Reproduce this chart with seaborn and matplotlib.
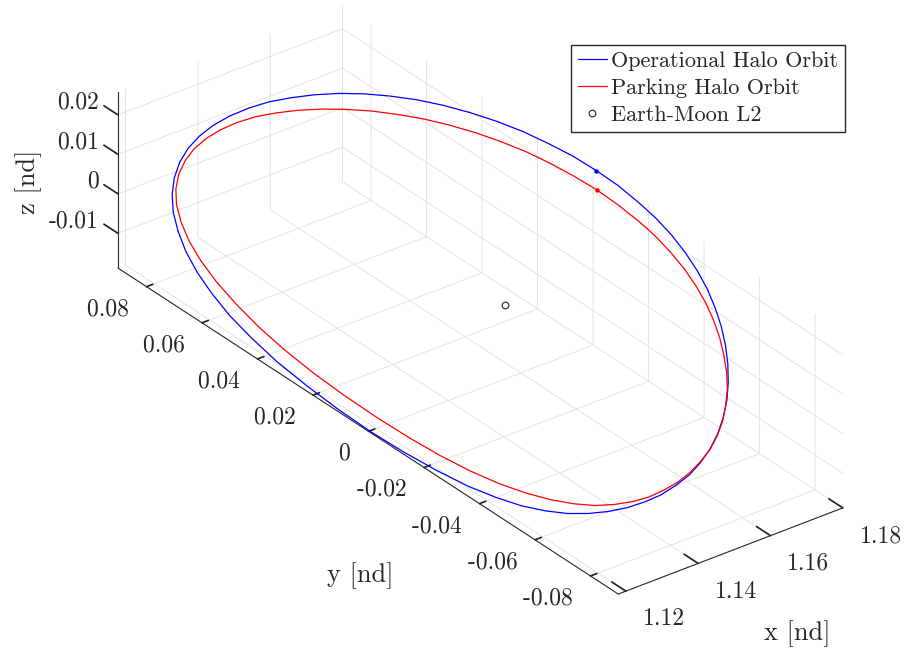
import numpy as np
import matplotlib
matplotlib.use("Agg")
import matplotlib.pyplot as plt
import seaborn as sns

# Operational halo orbit about Earth-Moon L2 (nondimensional rotating frame)
op_x = [1.1809, 1.1807, 1.1800, 1.1790, 1.1776, 1.1758, 1.1737, 1.1714, 1.1688, 1.1661, 1.1632,
        1.1601, 1.1569, 1.1537, 1.1504, 1.1470, 1.1437, 1.1404, 1.1373, 1.1343, 1.1315, 1.1289,
        1.1266, 1.1247, 1.1230, 1.1217, 1.1207, 1.1199, 1.1194, 1.1190, 1.1188, 1.1186, 1.1186,
        1.1186, 1.1188, 1.1190, 1.1194, 1.1199, 1.1207, 1.1217, 1.1230, 1.1247, 1.1266, 1.1289,
        1.1315, 1.1343, 1.1373, 1.1404, 1.1437, 1.1470, 1.1504, 1.1537, 1.1569, 1.1601, 1.1632,
        1.1661, 1.1688, 1.1714, 1.1737, 1.1758, 1.1776, 1.1790, 1.1800, 1.1807]
op_y = [0.0000, 0.0081, 0.0161, 0.0239, 0.0315, 0.0388, 0.0458, 0.0524, 0.0586, 0.0643, 0.0696,
        0.0745, 0.0788, 0.0825, 0.0855, 0.0879, 0.0895, 0.0903, 0.0903, 0.0894, 0.0877, 0.0851,
        0.0817, 0.0775, 0.0725, 0.0667, 0.0601, 0.0526, 0.0441, 0.0345, 0.0235, 0.0118, 0.0000,
        -0.0118, -0.0235, -0.0345, -0.0441, -0.0526, -0.0601, -0.0667, -0.0725, -0.0775, -0.0817,
        -0.0851, -0.0877, -0.0894, -0.0903, -0.0903, -0.0895, -0.0879, -0.0855, -0.0825, -0.0788,
        -0.0745, -0.0696, -0.0643, -0.0586, -0.0524, -0.0458, -0.0388, -0.0315, -0.0239, -0.0161,
        -0.0081]
op_z = [0.0251, 0.0251, 0.0249, 0.0247, 0.0243, 0.0238, 0.0232, 0.0224, 0.0214, 0.0203, 0.0190,
        0.0175, 0.0159, 0.0143, 0.0125, 0.0106, 0.0087, 0.0067, 0.0047, 0.0027, 0.0005, -0.0016,
        -0.0038, -0.0060, -0.0082, -0.0104, -0.0124, -0.0143, -0.0159, -0.0173, -0.0183, -0.0189,
        -0.0192, -0.0189, -0.0183, -0.0173, -0.0159, -0.0143, -0.0124, -0.0104, -0.0082, -0.0060,
        -0.0038, -0.0016, 0.0005, 0.0027, 0.0047, 0.0067, 0.0087, 0.0106, 0.0125, 0.0143, 0.0159,
        0.0175, 0.0190, 0.0203, 0.0214, 0.0224, 0.0232, 0.0238, 0.0243, 0.0247, 0.0249, 0.0251]

# Parking halo orbit
pk_x = [1.1810, 1.1808, 1.1802, 1.1793, 1.1779, 1.1763, 1.1743, 1.1721, 1.1696, 1.1669, 1.1640,
        1.1610, 1.1578, 1.1545, 1.1512, 1.1479, 1.1446, 1.1413, 1.1382, 1.1353, 1.1325, 1.1300,
        1.1278, 1.1260, 1.1244, 1.1231, 1.1221, 1.1214, 1.1208, 1.1204, 1.1202, 1.1201, 1.1201,
        1.1201, 1.1202, 1.1204, 1.1208, 1.1214, 1.1221, 1.1231, 1.1244, 1.1260, 1.1278, 1.1300,
        1.1325, 1.1353, 1.1382, 1.1413, 1.1446, 1.1479, 1.1512, 1.1545, 1.1578, 1.1610, 1.1640,
        1.1669, 1.1696, 1.1721, 1.1743, 1.1763, 1.1779, 1.1793, 1.1802, 1.1808]
pk_y = [0.0000, 0.0079, 0.0157, 0.0233, 0.0307, 0.0377, 0.0445, 0.0509, 0.0570, 0.0627, 0.0680,
        0.0729, 0.0773, 0.0810, 0.0842, 0.0866, 0.0883, 0.0892, 0.0894, 0.0888, 0.0874, 0.0852,
        0.0821, 0.0781, 0.0731, 0.0672, 0.0603, 0.0524, 0.0435, 0.0336, 0.0228, 0.0115, 0.0000,
        -0.0115, -0.0228, -0.0336, -0.0435, -0.0524, -0.0603, -0.0672, -0.0731, -0.0781, -0.0821,
        -0.0852, -0.0874, -0.0888, -0.0894, -0.0892, -0.0883, -0.0866, -0.0842, -0.0810, -0.0773,
        -0.0729, -0.0680, -0.0627, -0.0570, -0.0509, -0.0445, -0.0377, -0.0307, -0.0233, -0.0157,
        -0.0079]
pk_z = [0.0202, 0.0201, 0.0200, 0.0198, 0.0195, 0.0191, 0.0186, 0.0180, 0.0172, 0.0164, 0.0154,
        0.0143, 0.0131, 0.0119, 0.0106, 0.0092, 0.0077, 0.0062, 0.0046, 0.0029, 0.0012, -0.0007,
        -0.0025, -0.0044, -0.0064, -0.0082, -0.0100, -0.0117, -0.0132, -0.0144, -0.0153, -0.0158,
        -0.0160, -0.0158, -0.0153, -0.0144, -0.0132, -0.0117, -0.0100, -0.0082, -0.0064, -0.0044,
        -0.0025, -0.0007, 0.0012, 0.0029, 0.0046, 0.0062, 0.0077, 0.0092, 0.0106, 0.0119, 0.0131,
        0.0143, 0.0154, 0.0164, 0.0172, 0.0180, 0.0186, 0.0191, 0.0195, 0.0198, 0.0200, 0.0201]

# Earth-Moon L2 libration point
l2_x = [1.1557]
l2_y = [0.0]
l2_z = [0.0]

series_labels = ["Operational Halo Orbit", "Parking Halo Orbit", "Earth-Moon L2"]
x_ticks = [1.12, 1.14, 1.16, 1.18]
x_tick_labels = ["1.12", "1.14", "1.16", "1.18"]
y_ticks = [-0.08, -0.06, -0.04, -0.02, 0.0, 0.02, 0.04, 0.06, 0.08]
y_tick_labels = ["-0.08", "-0.06", "-0.04", "-0.02", "0", "0.02", "0.04", "0.06", "0.08"]
z_ticks = [-0.01, 0.0, 0.01, 0.02]
z_tick_labels = ["-0.01", "0", "0.01", "0.02"]
x_range = (1.1179, 1.1800)
y_range = (-0.0900, 0.0903)
z_range = (-0.0188, 0.0258)

W, H = 908, 650
INK = "#262626"

sns.set_theme(style="white")
plt.rcParams.update({
    "font.family": ["cmr10"],
    "mathtext.fontset": "cm",
    "axes.unicode_minus": False,
    "axes.formatter.use_mathtext": True,
    "grid.color": "#e0e0e0",
    "grid.linewidth": 0.6,
    "text.color": INK,
})

fig = plt.figure(figsize=(W / 100, H / 100), dpi=100)
ax = fig.add_axes([0.03897, -0.14608, 0.95439, 1.33321], projection="3d", proj_type="ortho")


def closed(v):
    return np.r_[v, v[:1]]


ax.plot(closed(op_x), closed(op_y), closed(op_z), color="blue", lw=0.9, label=series_labels[0])
ax.plot(closed(pk_x), closed(pk_y), closed(pk_z), color="red", lw=0.9, label=series_labels[1])
ax.plot(l2_x, l2_y, l2_z, ls="none", marker="o", mfc="none", mec=INK, ms=4.8, mew=0.8,
        label=series_labels[2])
# initial states on each orbit
ax.plot(op_x[:1], op_y[:1], op_z[:1], ls="none", marker="o", ms=2.2, color="blue")
ax.plot(pk_x[:1], pk_y[:1], pk_z[:1], ls="none", marker="o", ms=2.2, color="red")

ax.set_xlim(x_range)
ax.set_ylim(y_range)
ax.set_zlim(z_range)
ax.set_box_aspect((x_range[1] - x_range[0], y_range[1] - y_range[0], z_range[1] - z_range[0]))
ax.view_init(elev=30, azim=-127.5)

ax.set_xticks(x_ticks)
ax.set_xticklabels(x_tick_labels)
ax.set_yticks(y_ticks)
ax.set_yticklabels([t + " " for t in y_tick_labels])
ax.set_zticks(z_ticks)
ax.set_zticklabels(z_tick_labels)

for axis in (ax.xaxis, ax.yaxis, ax.zaxis):
    axis.set_pane_color((1, 1, 1, 1))
    axis.pane.set_edgecolor((1, 1, 1, 0))
    axis.line.set_color(INK)
    axis.line.set_linewidth(0.8)
    axis._axinfo["tick"]["inward_factor"] = 0.0
    axis._axinfo["tick"]["outward_factor"] = 0.35
# z ticks point along the y direction
ax.zaxis._get_tickdir = lambda *args, **kw: 1

ax.tick_params(axis="x", labelsize=17, colors=INK, width=0.8, pad=3)
ax.tick_params(axis="y", labelsize=17, colors=INK, width=0.8, pad=6)
ax.tick_params(axis="z", labelsize=17, colors=INK, width=0.8, pad=0.5)
plt.setp(ax.get_xticklabels(), ha="left")
plt.setp(ax.get_yticklabels(), ha="right", va="top")
plt.setp(ax.get_zticklabels(), ha="right", va="baseline")

ax.set_xlabel("")
ax.set_ylabel("")
ax.set_zlabel("")
fig.text(797 / W, 1 - 634 / H, "x [nd]", fontsize=19, ha="center", va="center")
fig.text(360 / W, 1 - 576 / H, "y [nd]", fontsize=19, ha="center", va="center")
fig.text(29 / W, 1 - 182 / H, "z [nd]", fontsize=19, ha="center", va="center", rotation=90)

ax.legend(loc="upper right", bbox_to_anchor=(845 / W, 1 - 45 / H), bbox_transform=fig.transFigure,
          fontsize=16, frameon=True, fancybox=False, edgecolor=INK, framealpha=1,
          handlelength=1.3, handletextpad=0.2, borderpad=0.3, labelspacing=0.33, borderaxespad=0)

fig.savefig("out.png", dpi=100, facecolor="white")
